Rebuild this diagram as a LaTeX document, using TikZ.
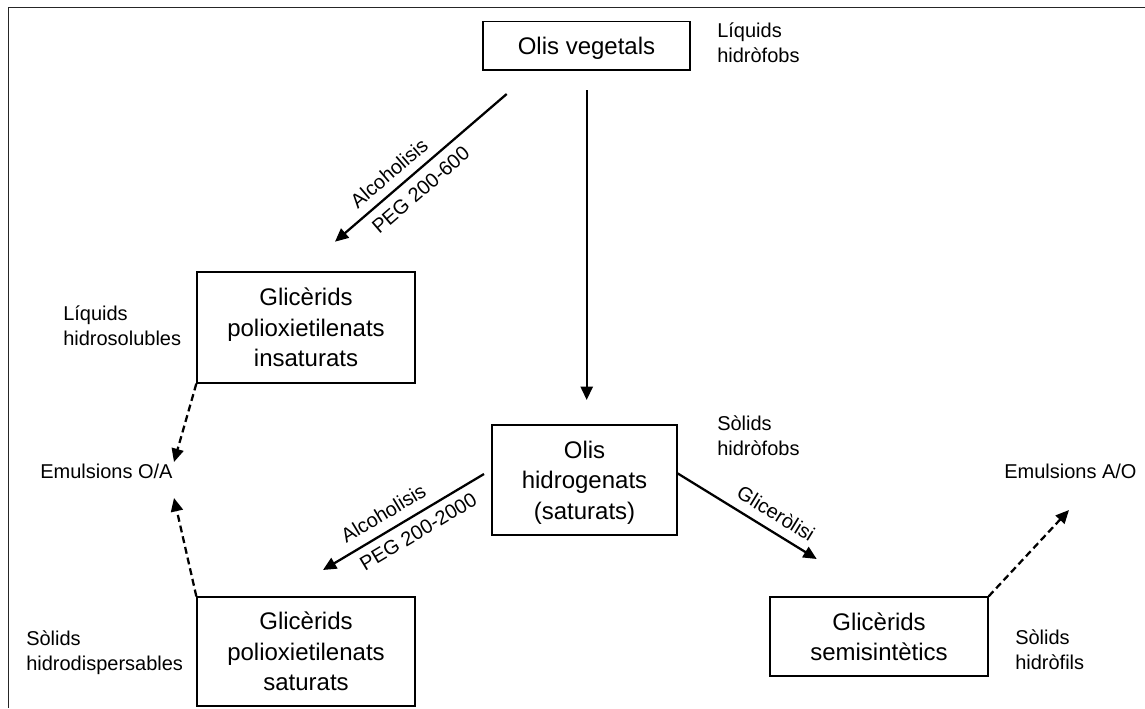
\documentclass[tikz,border=0pt]{standalone}
\usepackage{fontspec}
\setmainfont{Liberation Sans}
\usetikzlibrary{arrows.meta}
\begin{document}
\begin{tikzpicture}[x=0.75pt,y=-0.75pt,
  box/.style={draw, line width=1pt, inner sep=0pt, align=center,
    font=\fontsize{18pt}{22.9pt}\selectfont, text depth=0pt},
  side/.style={anchor=base west, inner sep=0pt, align=left,
    font=\fontsize{15pt}{18.75pt}\selectfont},
  lab/.style={inner sep=0pt, font=\fontsize{15pt}{18pt}\selectfont},
  arr/.style={line width=1.7pt, -{Triangle[length=10pt,width=9pt]}},
  darr/.style={arr, dash pattern=on 5.2pt off 3pt}]
\fill[white] (0,0) rectangle (1145,708);
\useasboundingbox (0,0) rectangle (1145,708);
% frame
\draw[line width=1.1pt, black!85] (8.7,708) -- (8.7,7.3) -- (1145,7.3);

% boxes
\node[box, minimum width=155.25pt, minimum height=36.2pt] (ov) at (586.5,45.9) {Olis vegetals};
\node[box, minimum width=163.5pt, minimum height=83.25pt] (g1) at (306,327.5) {Glicèrids\\polioxietilenats\\insaturats};
\node[box, minimum width=138.75pt, minimum height=82.5pt] (oh) at (584.5,480) {Olis\\hidrogenats\\(saturats)};
\node[box, minimum width=163.5pt, minimum height=81.75pt] (g2) at (306,651.5) {Glicèrids\\polioxietilenats\\saturats};
\node[box, minimum width=163.5pt, minimum height=59.25pt] (gs) at (879,636.5) {Glicèrids\\semisintètics};

% side labels (anchor on the baseline of the last line)
\node[side] (t1) at (717,62) {Líquids\\hidròfobs};
\node[side] (t2) at (63,345) {Líquids\\hidrosolubles};
\node[side] (t3) at (717,455) {Sòlids\\hidròfobs};
\node[side] (t4) at (26,670) {Sòlids\\hidrodispersables};
\node[side] (t5) at (1015,669) {Sòlids\\hidròfils};
\node[side] (eoa) at (40,478) {Emulsions O/A};
\node[side] (eao) at (1004,478) {Emulsions A/O};

% arrow end points
\coordinate (a0s) at (586.7,90);
\coordinate (a0e) at (586.7,400);
\coordinate (a1s) at (506.7,94);
\coordinate (a1e) at (335,241.7);
\coordinate (a2s) at (484,474);
\coordinate (a2e) at (323,570);
\coordinate (a3s) at (677,473);
\coordinate (a3e) at (816.7,559);
\coordinate (d1e) at (174,462);
\coordinate (d2e) at (174,498);
\coordinate (d3e) at (1069,510);

% arrows
\draw[arr] (a0s) -- (a0e);
\draw[arr] (a1s) -- (a1e);
\draw[arr] (a2s) -- (a2e);
\draw[arr] (a3s) -- (a3e);
\draw[darr] (g1.south west) -- (d1e);
\draw[darr] (g2.north west) -- (d2e);
\draw[darr] (gs.north east) -- (d3e);

% arrow labels
\node[lab, rotate=40.7] (l1a) at (389,173) {Alcoholisis};
\node[lab, rotate=40.7] (l1b) at (420.7,190) {PEG 200-600};
\node[lab, rotate=31] (l2a) at (383.3,513.3) {Alcoholisis};
\node[lab, rotate=31] (l2b) at (418.3,531.7) {PEG 200-2000};
\node[lab, rotate=-31.6] (l3) at (776,513.3) {Gliceròlisi};
\end{tikzpicture}
\end{document}
